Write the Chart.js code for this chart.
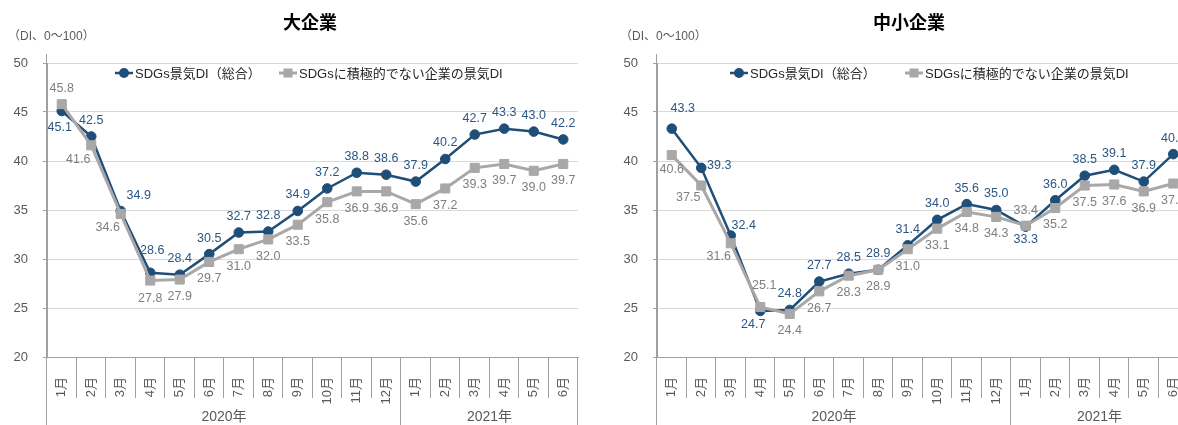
<!DOCTYPE html>
<html>
<head>
<meta charset="utf-8">
<script src="https://cdn.jsdelivr.net/npm/chart.js@4.4.1/dist/chart.umd.min.js"></script>
<style>
  body { margin: 0; background: #fff; overflow: hidden; width: 1178px; height: 425px; position: relative; }
  canvas { position: absolute; top: 0; }
  #largeChart { left: 0; }
  #smeChart { left: 610px; }
</style>
</head>
<body>
<canvas id="largeChart" width="620" height="425"></canvas>
<canvas id="smeChart" width="620" height="425"></canvas>
<script>
    // data
    const months = ['1月', '2月', '3月', '4月', '5月', '6月', '7月', '8月', '9月', '10月', '11月', '12月',
                    '1月', '2月', '3月', '4月', '5月', '6月']
    const years = ['2020年', '2021年']
    const yearSpans = [12, 6]
    const seriesNames = ['SDGs景気DI（総合）', 'SDGsに積極的でない企業の景気DI']
    const yMin = 20
    const yMax = 50
    const yStep = 5

    const largeSDGs  = [45.1, 42.5, 34.9, 28.6, 28.4, 30.5, 32.7, 32.8, 34.9, 37.2, 38.8, 38.6, 37.9, 40.2, 42.7, 43.3, 43.0, 42.2]
    const largeOther = [45.8, 41.6, 34.6, 27.8, 27.9, 29.7, 31.0, 32.0, 33.5, 35.8, 36.9, 36.9, 35.6, 37.2, 39.3, 39.7, 39.0, 39.7]
    const smeSDGs    = [43.3, 39.3, 32.4, 24.7, 24.8, 27.7, 28.5, 28.9, 31.4, 34.0, 35.6, 35.0, 33.3, 36.0, 38.5, 39.1, 37.9, 40.7]
    const smeOther   = [40.6, 37.5, 31.6, 25.1, 24.4, 26.7, 28.3, 28.9, 31.0, 33.1, 34.8, 34.3, 33.4, 35.2, 37.5, 37.6, 36.9, 37.7]

    const FONT = "'Liberation Sans', 'Noto Sans CJK JP', sans-serif"
    const NAVY = '#1f4e79'
    const GRAY = '#a9a7a7'
    const AXIS = '#a0a0a0'

    // label offsets [dx, dy] from each point, default + a few moved by hand
    function offsets(def, moved) {
      var arr = months.map(function () { return def })
      Object.keys(moved).forEach(function (k) { arr[k] = moved[k] })
      return arr
    }

    const largeSDGsPos  = offsets([0, -16], { 0: [-2, 17], 2: [18, -15], 3: [2, -22] })
    const largeOtherPos = offsets([0, 17], { 0: [0, -16], 1: [-13, 14], 2: [-13, 14], 3: [0, 18] })
    const smeSDGsPos    = offsets([0, -16], { 0: [11, -20], 1: [18, -2], 2: [13, -10], 3: [-7, 14], 12: [0, 13] })
    const smeOtherPos   = offsets([0, 17], { 0: [0, 14], 1: [-13, 12], 2: [-12, 13], 3: [4, -21], 12: [0, -15] })

    function makeChart(id, title, sdgs, other, sdgsPos, otherPos, look) {

      var decor = {
        id: 'decor',
        afterDatasetsDraw: function (chart) {
          var ctx = chart.ctx
          ctx.save()
          ctx.font = '12.5px ' + FONT
          ctx.textAlign = 'center'
          ctx.textBaseline = 'middle'
          chart.data.datasets.forEach(function (ds, di) {
            var meta = chart.getDatasetMeta(di)
            meta.data.forEach(function (pt, i) {
              var off = ds.labelPos[i]
              ctx.fillStyle = ds.labelColor
              ctx.fillText(ds.data[i].toFixed(1), pt.x + off[0], pt.y + off[1])
            })
          })
          ctx.restore()
        },
        afterDraw: function (chart) {
          var ctx = chart.ctx
          var xs = chart.scales.x
          var area = chart.chartArea
          var bottom = chart.height
          ctx.save()

          // title + unit
          ctx.fillStyle = '#000'
          ctx.font = 'bold 18px ' + FONT
          ctx.textAlign = 'center'
          ctx.textBaseline = 'middle'
          ctx.fillText(title, look.titleX, 24)
          ctx.fillStyle = '#595959'
          ctx.font = '12px ' + FONT
          ctx.textAlign = 'left'
          ctx.fillText('（DI、0～100）', look.unitX, 37)

          // y axis line runs above the plot and down to the year row
          ctx.strokeStyle = AXIS
          ctx.lineWidth = 1
          ctx.beginPath()
          ctx.moveTo(Math.round(area.left) - 0.5, 54)
          ctx.lineTo(Math.round(area.left) - 0.5, bottom)
          ctx.stroke()

          // month separators, longer ones at year boundaries
          var bounds = [0]
          yearSpans.forEach(function (n) { bounds.push(bounds[bounds.length - 1] + n) })
          for (var i = 0; i <= months.length; i++) {
            var x = Math.round(xs.getPixelForValue(i - 0.5)) - 0.5
            var isYear = bounds.indexOf(i) >= 0
            ctx.beginPath()
            ctx.moveTo(x, area.bottom)
            ctx.lineTo(x, isYear ? bottom : area.bottom + 41)
            ctx.stroke()
          }

          // year labels
          ctx.fillStyle = '#595959'
          ctx.font = '14px ' + FONT
          ctx.textAlign = 'center'
          for (var j = 0; j < years.length; j++) {
            var x0 = xs.getPixelForValue(bounds[j] - 0.5)
            var x1 = xs.getPixelForValue(bounds[j + 1] - 0.5)
            ctx.fillText(years[j], (x0 + x1) / 2, 417)
          }

          // legend
          ctx.font = '13px ' + FONT
          ctx.textAlign = 'left'
          chart.data.datasets.forEach(function (ds, di) {
            var lx = look.legendX[di]
            var ly = 73
            ctx.strokeStyle = ds.borderColor
            ctx.lineWidth = ds.borderWidth
            ctx.beginPath()
            ctx.moveTo(lx, ly)
            ctx.lineTo(lx + 18, ly)
            ctx.stroke()
            ctx.fillStyle = ds.borderColor
            if (ds.pointStyle === 'circle') {
              ctx.beginPath()
              ctx.arc(lx + 9, ly, 5, 0, Math.PI * 2)
              ctx.fill()
            } else {
              ctx.fillRect(lx + 4.5, ly - 4.5, 9, 9)
            }
            ctx.fillStyle = '#262626'
            ctx.fillText(ds.label, lx + 20, ly + 1)
          })
          ctx.restore()
        }
      }

      var ctx = document.getElementById(id).getContext('2d')
      return new Chart(ctx, {
        type: 'line',
        data: {
          labels: months,
          datasets: [{
            label: seriesNames[0],
            data: sdgs,
            labelPos: sdgsPos,
            labelColor: '#2b5784',
            borderColor: NAVY,
            backgroundColor: NAVY,
            borderWidth: 2.5,
            pointStyle: 'circle',
            pointRadius: 4.8,
            pointBackgroundColor: NAVY,
            pointBorderColor: NAVY,
            pointBorderWidth: 1,
            tension: 0,
            order: 1
          }, {
            label: seriesNames[1],
            data: other,
            labelPos: otherPos,
            labelColor: '#7f7f7f',
            borderColor: GRAY,
            backgroundColor: GRAY,
            borderWidth: 3,
            pointStyle: 'rect',
            pointRadius: 6.4,
            pointBackgroundColor: GRAY,
            pointBorderColor: GRAY,
            pointBorderWidth: 1,
            tension: 0,
            order: 0
          }]
        },
        options: {
          responsive: false,
          animation: false,
          events: [],
          layout: { padding: { top: 63, right: 42, left: 0, bottom: 0 } },
          plugins: {
            legend: { display: false },
            title: { display: false },
            tooltip: { enabled: false }
          },
          scales: {
            x: {
              offset: true,
              afterFit: function (s) { s.height = 68 },
              grid: { display: false },
              border: { display: true, color: AXIS, width: 1 },
              ticks: {
                autoSkip: false,
                minRotation: 90,
                maxRotation: 90,
                padding: 12,
                color: '#595959',
                font: { family: FONT, size: 13 }
              }
            },
            y: {
              min: yMin,
              max: yMax,
              afterFit: function (s) { s.width = 47 },
              grid: { color: '#d9d9d9', tickColor: AXIS, tickLength: 4, drawTicks: true },
              border: { display: true, color: AXIS, width: 1 },
              ticks: {
                stepSize: yStep,
                padding: 15,
                color: '#595959',
                font: { family: FONT, size: 13 }
              }
            }
          }
        },
        plugins: [decor]
      })
    }

    makeChart('largeChart', '大企業', largeSDGs, largeOther, largeSDGsPos, largeOtherPos,
              { titleX: 310, unitX: 8, legendX: [115, 279] })
    makeChart('smeChart', '中小企業', smeSDGs, smeOther, smeSDGsPos, smeOtherPos,
              { titleX: 299, unitX: 10, legendX: [120, 295] })
</script>
</body>
</html>
